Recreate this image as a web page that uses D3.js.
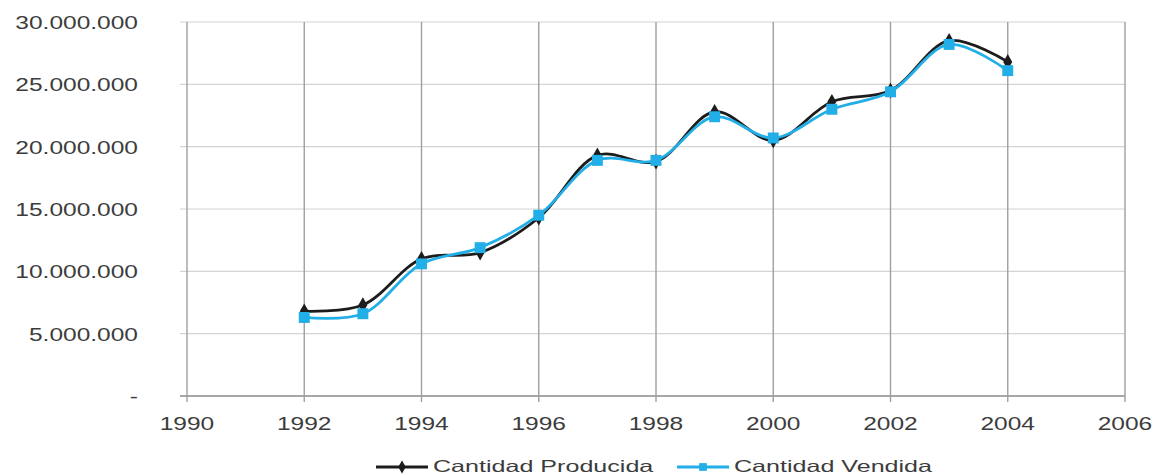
<!DOCTYPE html>
<html>
<head>
<meta charset="utf-8">
<script src="https://cdn.jsdelivr.net/npm/d3@7"></script>
<style>
  body { margin: 0; background: #fff; }
  text { font-family: "Liberation Sans", Arial, sans-serif; fill: #3c3c3c; }
</style>
</head>
<body>
<div id="chart"></div>
<script>
const years = [1992, 1993, 1994, 1995, 1996, 1997, 1998, 1999, 2000, 2001, 2002, 2003, 2004];
const producida = [6800000, 7300000, 11000000, 11500000, 14300000, 19300000, 18800000,
  22800000, 20500000, 23600000, 24500000, 28500000, 26800000];
const vendida = [6300000, 6600000, 10600000, 11900000, 14500000, 18900000, 18900000,
  22400000, 20700000, 23000000, 24400000, 28200000, 26100000];
const xTicks = [1990, 1992, 1994, 1996, 1998, 2000, 2002, 2004, 2006];
const yTicks = [0, 5000000, 10000000, 15000000, 20000000, 25000000, 30000000];
const seriesNames = ['Cantidad Producida', 'Cantidad Vendida'];

const width = 1167, height = 475;
const margin = { top: 22, right: 42, bottom: 79, left: 187 };

const svg = d3.select('#chart')
  .append('svg')
  .attr('width', width)
  .attr('height', height);

const xScale = d3.scaleLinear()
  .domain([1990, 2006])
  .range([margin.left, width - margin.right]);

const yScale = d3.scaleLinear()
  .domain([0, 30000000])
  .range([height - margin.bottom, margin.top]);

const locale = d3.formatLocale({ decimal: ',', thousands: '.', grouping: [3], currency: ['', ''] });
const fmt = locale.format(',');

// the reference text is widened horizontally
function widen(sel, k) {
  sel.each(function() {
    const w = this.getComputedTextLength();
    d3.select(this)
      .attr('textLength', w * k)
      .attr('lengthAdjust', 'spacingAndGlyphs');
  });
}

// Horizontal grid
svg.append('g')
  .selectAll('line')
  .data(yTicks)
  .enter()
  .append('line')
    .attr('x1', xScale(1990) - 7)
    .attr('x2', xScale(2006))
    .attr('y1', d => yScale(d))
    .attr('y2', d => yScale(d))
    .attr('stroke', d => d === 0 ? '#8a8a8a' : '#d4d4d4')
    .attr('stroke-width', d => d === 0 ? 1.6 : 1.2);

// Vertical grid
svg.append('g')
  .selectAll('line')
  .data(xTicks)
  .enter()
  .append('line')
    .attr('x1', d => xScale(d))
    .attr('x2', d => xScale(d))
    .attr('y1', yScale(30000000))
    .attr('y2', yScale(0) + 6)
    .attr('stroke', '#a0a0a0')
    .attr('stroke-width', 1.4);

// Y labels
svg.append('g')
  .selectAll('text')
  .data(yTicks)
  .enter()
  .append('text')
    .attr('x', 138)
    .attr('y', d => yScale(d) + 7)
    .attr('text-anchor', 'end')
    .style('font-size', '19px')
    .text(d => d === 0 ? '-' : fmt(d))
    .call(widen, 1.29);

// X labels
svg.append('g')
  .selectAll('text')
  .data(xTicks)
  .enter()
  .append('text')
    .attr('x', d => xScale(d))
    .attr('y', yScale(0) + 34)
    .attr('text-anchor', 'middle')
    .style('font-size', '19px')
    .text(d => d)
    .call(widen, 1.29);

// Lines
const line = d3.line()
  .x((d, i) => xScale(years[i]))
  .y(d => yScale(d))
  .curve(d3.curveCatmullRom.alpha(0.5));

svg.append('path')
  .datum(producida)
  .attr('d', line)
  .attr('fill', 'none')
  .attr('stroke', '#1c1c1c')
  .attr('stroke-width', 2.8);

svg.append('path')
  .datum(vendida)
  .attr('d', line)
  .attr('fill', 'none')
  .attr('stroke', '#22aee6')
  .attr('stroke-width', 2.8);

const diamond = d3.symbol().type(d3.symbolDiamond).size(70);
const square = d3.symbol().type(d3.symbolSquare).size(120);

svg.append('g')
  .selectAll('path')
  .data(producida)
  .enter()
  .append('path')
    .attr('d', diamond)
    .attr('transform', (d, i) => 'translate(' + xScale(years[i]) + ',' + yScale(d) + ')')
    .attr('fill', '#1c1c1c');

svg.append('g')
  .selectAll('path')
  .data(vendida)
  .enter()
  .append('path')
    .attr('d', square)
    .attr('transform', (d, i) => 'translate(' + xScale(years[i]) + ',' + yScale(d) + ')')
    .attr('fill', '#22aee6');

// Legend
const legendY = 467;
const legend = [
  { name: seriesNames[0], x: 376, color: '#1c1c1c', sym: d3.symbol().type(d3.symbolDiamond).size(50) },
  { name: seriesNames[1], x: 677, color: '#22aee6', sym: d3.symbol().type(d3.symbolSquare).size(60) }
];
const lg = svg.append('g')
  .selectAll('g')
  .data(legend)
  .enter()
  .append('g')
    .attr('transform', d => 'translate(' + d.x + ',' + legendY + ')');
lg.append('line')
  .attr('x1', 0).attr('x2', 52)
  .attr('stroke', d => d.color)
  .attr('stroke-width', 2.8);
lg.append('path')
  .attr('d', d => d.sym())
  .attr('transform', 'translate(26,0)')
  .attr('fill', d => d.color);
lg.append('text')
  .attr('x', 57)
  .attr('y', 5)
  .style('font-size', '16.5px')
  .text(d => d.name)
  .call(widen, 1.52);
</script>
</body>
</html>
